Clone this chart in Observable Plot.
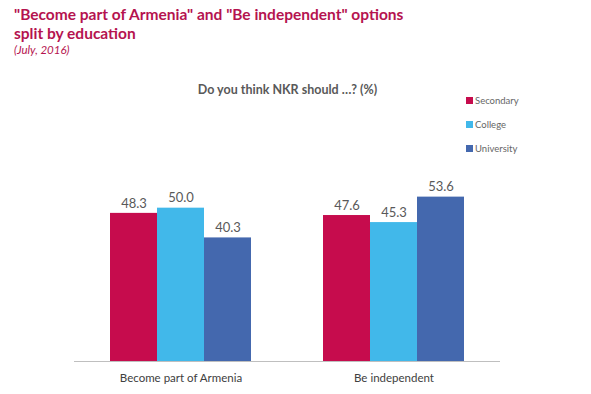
<!DOCTYPE html>
<html>
<head>
<meta charset="utf-8">
<script src="https://cdn.jsdelivr.net/npm/d3@7"></script>
<script src="https://cdn.jsdelivr.net/npm/@observablehq/plot@0.6"></script>
<style>
  html, body { margin: 0; padding: 0; background: #fff; }
  #wrap { position: relative; width: 591px; height: 394px; overflow: hidden; font-family: Lato, "Open Sans", sans-serif; }
  .title { position: absolute; left: 14px; color: #B5134F; font-weight: bold; font-size: 15.5px; white-space: nowrap; }
  #t1 { top: 5px; }
  #t2 { top: 23.6px; }
  #sub { position: absolute; left: 14px; top: 42.5px; color: #B5134F; font-style: italic; font-size: 11.5px; }
  #ctitle { position: absolute; left: 0; width: 575px; text-align: center; top: 82px; color: #595959; font-weight: bold; font-size: 12.5px; }
  #legend { position: absolute; left: 466px; top: 95px; font-size: 9.5px; color: #666; }
  #legend div { height: 24px; display: flex; align-items: flex-start; }
  #legend span.sw { display: inline-block; width: 7px; height: 7px; margin-right: 2px; margin-top: 2px; }
  #chart { position: absolute; left: 0; top: 0; }
</style>
</head>
<body>
<div id="wrap">
  <div id="chart"></div>
  <div class="title" id="t1">"Become part of Armenia" and "Be independent" options</div>
  <div class="title" id="t2">split by education</div>
  <div id="sub">(July, 2016)</div>
  <div id="ctitle">Do you think NKR should …? (%)</div>
  <div id="legend"></div>
</div>
<script>
const groups = ["Become part of Armenia", "Be independent"];
const education = ["Secondary", "College", "University"];
const colors = ["#C60C4D", "#41B8EA", "#4468AE"];
const secondary = [48.3, 47.6];
const college = [50.0, 45.3];
const university = [40.3, 53.6];

const series = [secondary, college, university];
const data = [];
groups.forEach((g, gi) => {
  education.forEach((e, ei) => {
    data.push({group: g, edu: e, value: series[ei][gi]});
  });
});

const plot = Plot.plot({
  width: 591,
  height: 394,
  marginLeft: 73,
  marginRight: 91,
  marginTop: 177,
  marginBottom: 33,
  style: {fontFamily: "Lato, 'Open Sans', sans-serif", background: "transparent", overflow: "visible"},
  fx: {domain: groups, padding: 0, label: null},
  x: {domain: education, paddingInner: 0, paddingOuter: 0.755, axis: null},
  y: {domain: [0, 60], axis: null},
  color: {domain: education, range: colors},
  marks: [
    Plot.barY(data, {fx: "group", x: "edu", y: "value", fill: "edu"}),
    Plot.text(data, {fx: "group", x: "edu", y: "value", text: d => d.value.toFixed(1), dy: -10, fill: "#595959", fontSize: 13}),
    Plot.ruleY([0], {stroke: "#bfbfbf", strokeWidth: 1}),
    Plot.axisFx({anchor: "bottom", tickSize: 0, tickPadding: 12, fontSize: 11.5, color: "#404040", label: null})
  ]
});
document.getElementById("chart").appendChild(plot);

const legend = document.getElementById("legend");
education.forEach((e, i) => {
  const row = document.createElement("div");
  row.innerHTML = `<span class="sw" style="background:${colors[i]}"></span><span>${e}</span>`;
  legend.appendChild(row);
});
</script>
</body>
</html>
